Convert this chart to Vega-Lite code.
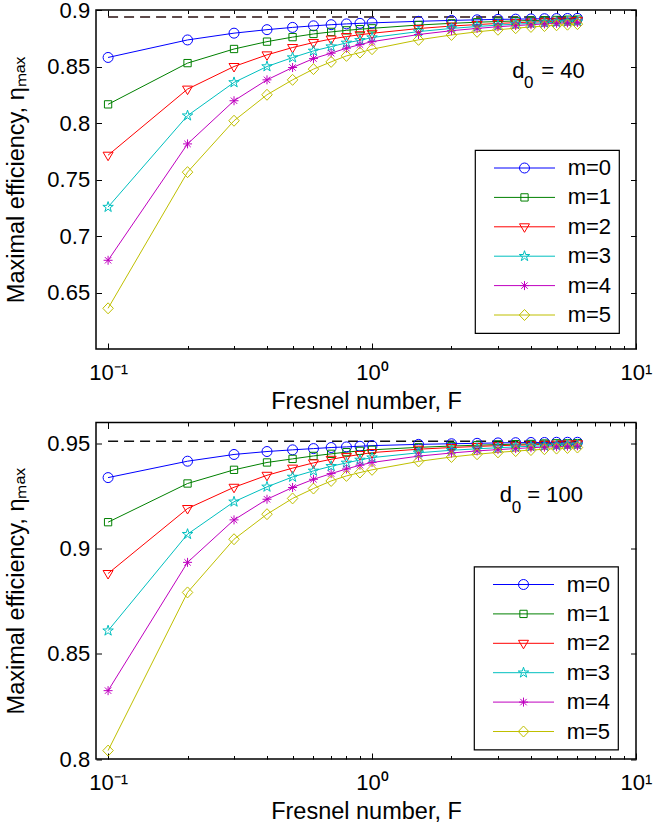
{
  "$schema": "https://vega.github.io/schema/vega-lite/v6.json",
  "background": "white",
  "padding": {"left": 4, "top": -2, "right": 0, "bottom": 0},
  "spacing": 6.5,
  "config": {
    "font": "Liberation Sans",
    "view": {"stroke": "black", "strokeWidth": 1.5},
    "axis": {"grid": false, "domain": false, "labelFont": "Liberation Sans", "labelFontSize": 22, "labelColor": "black", "titleFont": "Liberation Sans", "titleFontSize": 23.5, "titleFontWeight": "normal", "titleColor": "black", "tickColor": "black", "tickWidth": 1, "labelFlush": false, "labelOverlap": false},
    "legend": {"strokeWidth": 1.2}
  },
  "resolve": {"scale": {"x": "independent", "y": "independent", "color": "independent", "shape": "independent"}},
  "datasets": {
    "top": [
      {"F":0.1,"m":"m=0","eta":0.858},{"F":0.2,"m":"m=0","eta":0.8735},{"F":0.3,"m":"m=0","eta":0.8795},{"F":0.4,"m":"m=0","eta":0.8826},{"F":0.5,"m":"m=0","eta":0.8846},{"F":0.6,"m":"m=0","eta":0.886},{"F":0.7,"m":"m=0","eta":0.887},{"F":0.8,"m":"m=0","eta":0.8877},{"F":0.9,"m":"m=0","eta":0.8882},{"F":1,"m":"m=0","eta":0.8886},{"F":1.5,"m":"m=0","eta":0.89},{"F":2,"m":"m=0","eta":0.8908},{"F":2.5,"m":"m=0","eta":0.8913},{"F":3,"m":"m=0","eta":0.8917},{"F":3.5,"m":"m=0","eta":0.8919},{"F":4,"m":"m=0","eta":0.8921},{"F":4.5,"m":"m=0","eta":0.8923},{"F":5,"m":"m=0","eta":0.8924},{"F":5.5,"m":"m=0","eta":0.8925},{"F":6,"m":"m=0","eta":0.8926},
      {"F":0.1,"m":"m=1","eta":0.8165},{"F":0.2,"m":"m=1","eta":0.853},{"F":0.3,"m":"m=1","eta":0.8655},{"F":0.4,"m":"m=1","eta":0.872},{"F":0.5,"m":"m=1","eta":0.876},{"F":0.6,"m":"m=1","eta":0.8788},{"F":0.7,"m":"m=1","eta":0.8806},{"F":0.8,"m":"m=1","eta":0.882},{"F":0.9,"m":"m=1","eta":0.883},{"F":1,"m":"m=1","eta":0.8838},{"F":1.5,"m":"m=1","eta":0.8867},{"F":2,"m":"m=1","eta":0.8882},{"F":2.5,"m":"m=1","eta":0.8892},{"F":3,"m":"m=1","eta":0.8898},{"F":3.5,"m":"m=1","eta":0.8903},{"F":4,"m":"m=1","eta":0.8907},{"F":4.5,"m":"m=1","eta":0.8909},{"F":5,"m":"m=1","eta":0.8912},{"F":5.5,"m":"m=1","eta":0.8914},{"F":6,"m":"m=1","eta":0.8915},
      {"F":0.1,"m":"m=2","eta":0.7715},{"F":0.2,"m":"m=2","eta":0.83},{"F":0.3,"m":"m=2","eta":0.85},{"F":0.4,"m":"m=2","eta":0.8603},{"F":0.5,"m":"m=2","eta":0.8668},{"F":0.6,"m":"m=2","eta":0.8712},{"F":0.7,"m":"m=2","eta":0.8743},{"F":0.8,"m":"m=2","eta":0.8765},{"F":0.9,"m":"m=2","eta":0.8781},{"F":1,"m":"m=2","eta":0.8794},{"F":1.5,"m":"m=2","eta":0.8836},{"F":2,"m":"m=2","eta":0.8858},{"F":2.5,"m":"m=2","eta":0.8871},{"F":3,"m":"m=2","eta":0.8881},{"F":3.5,"m":"m=2","eta":0.8888},{"F":4,"m":"m=2","eta":0.8893},{"F":4.5,"m":"m=2","eta":0.8897},{"F":5,"m":"m=2","eta":0.8901},{"F":5.5,"m":"m=2","eta":0.8903},{"F":6,"m":"m=2","eta":0.8906},
      {"F":0.1,"m":"m=3","eta":0.7256},{"F":0.2,"m":"m=3","eta":0.8065},{"F":0.3,"m":"m=3","eta":0.8359},{"F":0.4,"m":"m=3","eta":0.85},{"F":0.5,"m":"m=3","eta":0.8579},{"F":0.6,"m":"m=3","eta":0.8638},{"F":0.7,"m":"m=3","eta":0.8676},{"F":0.8,"m":"m=3","eta":0.8709},{"F":0.9,"m":"m=3","eta":0.8732},{"F":1,"m":"m=3","eta":0.8756},{"F":1.5,"m":"m=3","eta":0.8809},{"F":2,"m":"m=3","eta":0.8837},{"F":2.5,"m":"m=3","eta":0.8854},{"F":3,"m":"m=3","eta":0.8866},{"F":3.5,"m":"m=3","eta":0.8875},{"F":4,"m":"m=3","eta":0.8881},{"F":4.5,"m":"m=3","eta":0.8887},{"F":5,"m":"m=3","eta":0.8891},{"F":5.5,"m":"m=3","eta":0.8895},{"F":6,"m":"m=3","eta":0.8898},
      {"F":0.1,"m":"m=4","eta":0.6785},{"F":0.2,"m":"m=4","eta":0.7815},{"F":0.3,"m":"m=4","eta":0.8197},{"F":0.4,"m":"m=4","eta":0.8382},{"F":0.5,"m":"m=4","eta":0.8491},{"F":0.6,"m":"m=4","eta":0.857},{"F":0.7,"m":"m=4","eta":0.8618},{"F":0.8,"m":"m=4","eta":0.8662},{"F":0.9,"m":"m=4","eta":0.8694},{"F":1,"m":"m=4","eta":0.872},{"F":1.5,"m":"m=4","eta":0.8783},{"F":2,"m":"m=4","eta":0.8817},{"F":2.5,"m":"m=4","eta":0.8837},{"F":3,"m":"m=4","eta":0.8852},{"F":3.5,"m":"m=4","eta":0.8862},{"F":4,"m":"m=4","eta":0.887},{"F":4.5,"m":"m=4","eta":0.8877},{"F":5,"m":"m=4","eta":0.8882},{"F":5.5,"m":"m=4","eta":0.8886},{"F":6,"m":"m=4","eta":0.889},
      {"F":0.1,"m":"m=5","eta":0.636},{"F":0.2,"m":"m=5","eta":0.7565},{"F":0.3,"m":"m=5","eta":0.802},{"F":0.4,"m":"m=5","eta":0.825},{"F":0.5,"m":"m=5","eta":0.8382},{"F":0.6,"m":"m=5","eta":0.8477},{"F":0.7,"m":"m=5","eta":0.8541},{"F":0.8,"m":"m=5","eta":0.8594},{"F":0.9,"m":"m=5","eta":0.8623},{"F":1,"m":"m=5","eta":0.8653},{"F":1.5,"m":"m=5","eta":0.8736},{"F":2,"m":"m=5","eta":0.8779},{"F":2.5,"m":"m=5","eta":0.8807},{"F":3,"m":"m=5","eta":0.8825},{"F":3.5,"m":"m=5","eta":0.8839},{"F":4,"m":"m=5","eta":0.885},{"F":4.5,"m":"m=5","eta":0.8858},{"F":5,"m":"m=5","eta":0.8865},{"F":5.5,"m":"m=5","eta":0.887},{"F":6,"m":"m=5","eta":0.8875}
    ],
    "bottom": [
      {"F":0.1,"m":"m=0","eta":0.9338},{"F":0.2,"m":"m=0","eta":0.9416},{"F":0.3,"m":"m=0","eta":0.9448},{"F":0.4,"m":"m=0","eta":0.9462},{"F":0.5,"m":"m=0","eta":0.947},{"F":0.6,"m":"m=0","eta":0.9476},{"F":0.7,"m":"m=0","eta":0.9481},{"F":0.8,"m":"m=0","eta":0.9484},{"F":0.9,"m":"m=0","eta":0.9487},{"F":1,"m":"m=0","eta":0.949},{"F":1.5,"m":"m=0","eta":0.9496},{"F":2,"m":"m=0","eta":0.9499},{"F":2.5,"m":"m=0","eta":0.9501},{"F":3,"m":"m=0","eta":0.9503},{"F":3.5,"m":"m=0","eta":0.9504},{"F":4,"m":"m=0","eta":0.9505},{"F":4.5,"m":"m=0","eta":0.9505},{"F":5,"m":"m=0","eta":0.9506},{"F":5.5,"m":"m=0","eta":0.9506},{"F":6,"m":"m=0","eta":0.9506},
      {"F":0.1,"m":"m=1","eta":0.9126},{"F":0.2,"m":"m=1","eta":0.931},{"F":0.3,"m":"m=1","eta":0.9375},{"F":0.4,"m":"m=1","eta":0.941},{"F":0.5,"m":"m=1","eta":0.9427},{"F":0.6,"m":"m=1","eta":0.9441},{"F":0.7,"m":"m=1","eta":0.9451},{"F":0.8,"m":"m=1","eta":0.9459},{"F":0.9,"m":"m=1","eta":0.9465},{"F":1,"m":"m=1","eta":0.947},{"F":1.5,"m":"m=1","eta":0.9482},{"F":2,"m":"m=1","eta":0.9488},{"F":2.5,"m":"m=1","eta":0.9492},{"F":3,"m":"m=1","eta":0.9495},{"F":3.5,"m":"m=1","eta":0.9497},{"F":4,"m":"m=1","eta":0.9498},{"F":4.5,"m":"m=1","eta":0.95},{"F":5,"m":"m=1","eta":0.9501},{"F":5.5,"m":"m=1","eta":0.9501},{"F":6,"m":"m=1","eta":0.9502},
      {"F":0.1,"m":"m=2","eta":0.8882},{"F":0.2,"m":"m=2","eta":0.9191},{"F":0.3,"m":"m=2","eta":0.9292},{"F":0.4,"m":"m=2","eta":0.9349},{"F":0.5,"m":"m=2","eta":0.9383},{"F":0.6,"m":"m=2","eta":0.9408},{"F":0.7,"m":"m=2","eta":0.9425},{"F":0.8,"m":"m=2","eta":0.9438},{"F":0.9,"m":"m=2","eta":0.9448},{"F":1,"m":"m=2","eta":0.9457},{"F":1.5,"m":"m=2","eta":0.9473},{"F":2,"m":"m=2","eta":0.9481},{"F":2.5,"m":"m=2","eta":0.9486},{"F":3,"m":"m=2","eta":0.949},{"F":3.5,"m":"m=2","eta":0.9492},{"F":4,"m":"m=2","eta":0.9494},{"F":4.5,"m":"m=2","eta":0.9496},{"F":5,"m":"m=2","eta":0.9497},{"F":5.5,"m":"m=2","eta":0.9498},{"F":6,"m":"m=2","eta":0.9499},
      {"F":0.1,"m":"m=3","eta":0.861},{"F":0.2,"m":"m=3","eta":0.9069},{"F":0.3,"m":"m=3","eta":0.9223},{"F":0.4,"m":"m=3","eta":0.9294},{"F":0.5,"m":"m=3","eta":0.9341},{"F":0.6,"m":"m=3","eta":0.937},{"F":0.7,"m":"m=3","eta":0.9392},{"F":0.8,"m":"m=3","eta":0.9408},{"F":0.9,"m":"m=3","eta":0.9422},{"F":1,"m":"m=3","eta":0.9433},{"F":1.5,"m":"m=3","eta":0.9456},{"F":2,"m":"m=3","eta":0.9468},{"F":2.5,"m":"m=3","eta":0.9475},{"F":3,"m":"m=3","eta":0.948},{"F":3.5,"m":"m=3","eta":0.9484},{"F":4,"m":"m=3","eta":0.9487},{"F":4.5,"m":"m=3","eta":0.9489},{"F":5,"m":"m=3","eta":0.9491},{"F":5.5,"m":"m=3","eta":0.9493},{"F":6,"m":"m=3","eta":0.9494},
      {"F":0.1,"m":"m=4","eta":0.8325},{"F":0.2,"m":"m=4","eta":0.8935},{"F":0.3,"m":"m=4","eta":0.9137},{"F":0.4,"m":"m=4","eta":0.9235},{"F":0.5,"m":"m=4","eta":0.9291},{"F":0.6,"m":"m=4","eta":0.933},{"F":0.7,"m":"m=4","eta":0.9357},{"F":0.8,"m":"m=4","eta":0.9379},{"F":0.9,"m":"m=4","eta":0.9397},{"F":1,"m":"m=4","eta":0.941},{"F":1.5,"m":"m=4","eta":0.944},{"F":2,"m":"m=4","eta":0.9455},{"F":2.5,"m":"m=4","eta":0.9465},{"F":3,"m":"m=4","eta":0.9471},{"F":3.5,"m":"m=4","eta":0.9476},{"F":4,"m":"m=4","eta":0.948},{"F":4.5,"m":"m=4","eta":0.9483},{"F":5,"m":"m=4","eta":0.9485},{"F":5.5,"m":"m=4","eta":0.9487},{"F":6,"m":"m=4","eta":0.9489},
      {"F":0.1,"m":"m=5","eta":0.804},{"F":0.2,"m":"m=5","eta":0.8792},{"F":0.3,"m":"m=5","eta":0.9045},{"F":0.4,"m":"m=5","eta":0.9164},{"F":0.5,"m":"m=5","eta":0.9239},{"F":0.6,"m":"m=5","eta":0.9286},{"F":0.7,"m":"m=5","eta":0.9322},{"F":0.8,"m":"m=5","eta":0.9346},{"F":0.9,"m":"m=5","eta":0.9362},{"F":1,"m":"m=5","eta":0.9375},{"F":1.5,"m":"m=5","eta":0.9415},{"F":2,"m":"m=5","eta":0.9436},{"F":2.5,"m":"m=5","eta":0.9449},{"F":3,"m":"m=5","eta":0.9458},{"F":3.5,"m":"m=5","eta":0.9464},{"F":4,"m":"m=5","eta":0.9469},{"F":4.5,"m":"m=5","eta":0.9473},{"F":5,"m":"m=5","eta":0.9476},{"F":5.5,"m":"m=5","eta":0.9479},{"F":6,"m":"m=5","eta":0.9481}
    ],
    "asymTop": [{"F":0.1,"eta":0.8937},{"F":6,"eta":0.8937}],
    "asymBottom": [{"F":0.1,"eta":0.9511},{"F":6,"eta":0.9511}]
  },
  "vconcat": [
    {
      "width": 540,
      "height": 339,
      "resolve": {"axis": {"x": "independent", "y": "independent"}, "scale": {"color": "independent", "shape": "independent"}},
      "layer": [
        {
          "data": {"name": "asymTop"},
          "mark": {"type": "line", "strokeDash": [10, 6], "color": "#2a1010", "strokeWidth": 1.5},
          "encoding": {
            "x": {"field": "F", "type": "quantitative", "axis": null},
            "y": {"field": "eta", "type": "quantitative", "axis": null}
          }
        },
        {
          "data": {"name": "top"},
          "mark": {"type": "line", "strokeWidth": 1},
          "encoding": {
            "x": {"field": "F", "type": "quantitative", "scale": {"type": "log", "domain": [0.09, 10], "nice": false},
              "axis": {"orient": "bottom", "values": [0.1,0.2,0.3,0.4,0.5,0.6,0.7,0.8,0.9,1,2,3,4,5,6,7,8,9,10],
                "labelExpr": "datum.value == 0.1 ? '10⁻¹' : datum.value == 1 ? '10⁰' : datum.value == 10 ? '10¹' : ''",
                "tickSize": {"condition": {"test": "datum.value == 0.1 || datum.value == 1 || datum.value == 10", "value": -6}, "value": -3.5},
                "labelPadding": 19, "title": "Fresnel number, F", "titlePadding": 4}},
            "y": {"field": "eta", "type": "quantitative", "scale": {"domain": [0.6, 0.9], "nice": false, "zero": false},
              "axis": {"orient": "left", "values": [0.65,0.7,0.75,0.8,0.85,0.9], "format": ".2~f", "tickSize": -5.5, "labelPadding": 11.8, "title": "Maximal efficiency, ηₘₐₓ", "titlePadding": 18}},
            "color": {"field": "m", "type": "nominal", "scale": {"domain": ["m=0","m=1","m=2","m=3","m=4","m=5"], "range": ["#0000ff","#008000","#ff0000","#00bfbf","#bf00bf","#bfbf00"]}, "legend": null}
          }
        },
        {
          "data": {"name": "top"},
          "mark": {"type": "point", "filled": false, "size": 100, "strokeWidth": 1, "opacity": 1},
          "encoding": {
            "x": {"field": "F", "type": "quantitative",
              "axis": {"orient": "top", "values": [0.1,0.2,0.3,0.4,0.5,0.6,0.7,0.8,0.9,1,2,3,4,5,6,7,8,9,10], "labels": false, "title": null,
                "tickSize": {"condition": {"test": "datum.value == 0.1 || datum.value == 1 || datum.value == 10", "value": -6}, "value": -3.5}}},
            "y": {"field": "eta", "type": "quantitative",
              "axis": {"orient": "right", "values": [0.65,0.7,0.75,0.8,0.85,0.9], "labels": false, "title": null, "tickSize": -5.5}},
            "color": {"field": "m", "type": "nominal", "scale": {"domain": ["m=0","m=1","m=2","m=3","m=4","m=5"], "range": ["#0000ff","#008000","#ff0000","#00bfbf","#bf00bf","#bfbf00"]}, "legend": null},
            "shape": {"field": "m", "type": "nominal", "scale": {"domain": ["m=0","m=1","m=2","m=3","m=4","m=5"], "range": ["M1,0A1,1,0,1,1,-1,0A1,1,0,1,1,1,0Z", "M-0.73,-0.73H0.73V0.73H-0.73Z", "M-1,-0.6H1L0,1.1Z", "M0,-1.1L0.247,-0.34L1.046,-0.34L0.4,0.13L0.647,0.89L0,0.42L-0.647,0.89L-0.4,0.13L-1.046,-0.34L-0.247,-0.34Z", "M-0.9,0H0.9M0,-0.9V0.9M-0.64,-0.64L0.64,0.64M-0.64,0.64L0.64,-0.64", "M0,-1.1L1.05,0L0,1.1L-1.05,0Z"]}, "legend": null}
          }
        },
        {
          "data": {"name": "top"},
          "transform": [{"filter": "datum.F < 0"}],
          "mark": {"type": "point", "filled": false, "size": 100, "strokeWidth": 1, "opacity": 1},
          "encoding": {
            "x": {"field": "F", "type": "quantitative", "axis": null},
            "y": {"field": "eta", "type": "quantitative", "axis": null},
            "color": {"field": "m", "type": "nominal", "scale": {"domain": ["m=0","m=1","m=2","m=3","m=4","m=5"], "range": ["#0000ff","#008000","#ff0000","#00bfbf","#bf00bf","#bfbf00"]},
              "legend": {"orient": "none", "legendX": 379, "legendY": 140, "title": null, "padding": 7, "rowPadding": 7.4, "strokeColor": "black", "fillColor": "white", "symbolSize": 100, "symbolStrokeWidth": 1, "labelOffset": 63.7, "labelFontSize": 22, "labelFont": "Liberation Sans", "labelColor": "black", "labelExpr": "datum.label + '  '"}},
            "shape": {"field": "m", "type": "nominal", "scale": {"domain": ["m=0","m=1","m=2","m=3","m=4","m=5"], "range": ["M0.2,0H12.4M7.3,0A1,1,0,1,1,5.3,0A1,1,0,1,1,7.3,0", "M0.2,0H12.4M5.57,-0.73H7.03V0.73H5.57Z", "M0.2,0H12.4M5.3,-0.6H7.3L6.3,1.1Z", "M0.2,0H12.4M6.3,-1.1L6.547,-0.34L7.346,-0.34L6.7,0.13L6.947,0.89L6.3,0.42L5.653,0.89L5.9,0.13L5.254,-0.34L6.053,-0.34Z", "M0.2,0H12.4M5.4,0H7.2M6.3,-0.9V0.9M5.66,-0.64L6.94,0.64M5.66,0.64L6.94,-0.64", "M0.2,0H12.4M6.3,-1.1L7.35,0L6.3,1.1L5.25,0Z"]},
              "legend": {"orient": "none", "legendX": 379, "legendY": 140, "title": null, "padding": 7, "rowPadding": 7.4, "strokeColor": "black", "fillColor": "white", "symbolSize": 100, "symbolStrokeWidth": 1, "labelOffset": 63.7, "labelFontSize": 22, "labelFont": "Liberation Sans", "labelColor": "black", "labelExpr": "datum.label + '  '"}}
          }
        },
        {
          "data": {"values": [{"F": 3.4, "eta": 0.8397, "d0": 40}]},
          "layer": [
            {"mark": {"type": "text", "text": "d", "align": "left", "baseline": "alphabetic", "fontSize": 22, "color": "black"},
             "encoding": {"x": {"field": "F", "type": "quantitative", "axis": null}, "y": {"field": "eta", "type": "quantitative", "axis": null}}},
            {"mark": {"type": "text", "text": "0", "align": "left", "baseline": "alphabetic", "fontSize": 17, "dx": 11.7, "dy": 10, "color": "black"},
             "encoding": {"x": {"field": "F", "type": "quantitative", "axis": null}, "y": {"field": "eta", "type": "quantitative", "axis": null}}},
            {"mark": {"type": "text", "align": "left", "baseline": "alphabetic", "fontSize": 22, "dx": 29, "color": "black"},
             "encoding": {"x": {"field": "F", "type": "quantitative", "axis": null}, "y": {"field": "eta", "type": "quantitative", "axis": null}, "text": {"value": "= 40"}}}
          ]
        }
      ]
    },
    {
      "width": 540,
      "height": 336.5,
      "resolve": {"axis": {"x": "independent", "y": "independent"}, "scale": {"color": "independent", "shape": "independent"}},
      "layer": [
        {
          "data": {"name": "asymBottom"},
          "mark": {"type": "line", "strokeDash": [10, 6], "color": "#111111", "strokeWidth": 1.5},
          "encoding": {
            "x": {"field": "F", "type": "quantitative", "axis": null},
            "y": {"field": "eta", "type": "quantitative", "axis": null}
          }
        },
        {
          "data": {"name": "bottom"},
          "mark": {"type": "line", "strokeWidth": 1},
          "encoding": {
            "x": {"field": "F", "type": "quantitative", "scale": {"type": "log", "domain": [0.09, 10], "nice": false},
              "axis": {"orient": "bottom", "values": [0.1,0.2,0.3,0.4,0.5,0.6,0.7,0.8,0.9,1,2,3,4,5,6,7,8,9,10],
                "labelExpr": "datum.value == 0.1 ? '10⁻¹' : datum.value == 1 ? '10⁰' : datum.value == 10 ? '10¹' : ''",
                "tickSize": {"condition": {"test": "datum.value == 0.1 || datum.value == 1 || datum.value == 10", "value": -6}, "value": -3.5},
                "labelPadding": 19, "title": "Fresnel number, F", "titlePadding": 4}},
            "y": {"field": "eta", "type": "quantitative", "scale": {"domain": [0.8, 0.96], "nice": false, "zero": false},
              "axis": {"orient": "left", "values": [0.8,0.85,0.9,0.95], "format": ".2~f", "tickSize": -5.5, "labelPadding": 11.8, "title": "Maximal efficiency, ηₘₐₓ", "titlePadding": 18}},
            "color": {"field": "m", "type": "nominal", "scale": {"domain": ["m=0","m=1","m=2","m=3","m=4","m=5"], "range": ["#0000ff","#008000","#ff0000","#00bfbf","#bf00bf","#bfbf00"]}, "legend": null}
          }
        },
        {
          "data": {"name": "bottom"},
          "mark": {"type": "point", "filled": false, "size": 100, "strokeWidth": 1, "opacity": 1},
          "encoding": {
            "x": {"field": "F", "type": "quantitative",
              "axis": {"orient": "top", "values": [0.1,0.2,0.3,0.4,0.5,0.6,0.7,0.8,0.9,1,2,3,4,5,6,7,8,9,10], "labels": false, "title": null,
                "tickSize": {"condition": {"test": "datum.value == 0.1 || datum.value == 1 || datum.value == 10", "value": -6}, "value": -3.5}}},
            "y": {"field": "eta", "type": "quantitative",
              "axis": {"orient": "right", "values": [0.8,0.85,0.9,0.95], "labels": false, "title": null, "tickSize": -5.5}},
            "color": {"field": "m", "type": "nominal", "scale": {"domain": ["m=0","m=1","m=2","m=3","m=4","m=5"], "range": ["#0000ff","#008000","#ff0000","#00bfbf","#bf00bf","#bfbf00"]}, "legend": null},
            "shape": {"field": "m", "type": "nominal", "scale": {"domain": ["m=0","m=1","m=2","m=3","m=4","m=5"], "range": ["M1,0A1,1,0,1,1,-1,0A1,1,0,1,1,1,0Z", "M-0.73,-0.73H0.73V0.73H-0.73Z", "M-1,-0.6H1L0,1.1Z", "M0,-1.1L0.247,-0.34L1.046,-0.34L0.4,0.13L0.647,0.89L0,0.42L-0.647,0.89L-0.4,0.13L-1.046,-0.34L-0.247,-0.34Z", "M-0.9,0H0.9M0,-0.9V0.9M-0.64,-0.64L0.64,0.64M-0.64,0.64L0.64,-0.64", "M0,-1.1L1.05,0L0,1.1L-1.05,0Z"]}, "legend": null}
          }
        },
        {
          "data": {"name": "bottom"},
          "transform": [{"filter": "datum.F < 0"}],
          "mark": {"type": "point", "filled": false, "size": 100, "strokeWidth": 1, "opacity": 1},
          "encoding": {
            "x": {"field": "F", "type": "quantitative", "axis": null},
            "y": {"field": "eta", "type": "quantitative", "axis": null},
            "color": {"field": "m", "type": "nominal", "scale": {"domain": ["m=0","m=1","m=2","m=3","m=4","m=5"], "range": ["#0000ff","#008000","#ff0000","#00bfbf","#bf00bf","#bfbf00"]},
              "legend": {"orient": "none", "legendX": 378, "legendY": 144, "title": null, "padding": 7, "rowPadding": 7.4, "strokeColor": "black", "fillColor": "white", "symbolSize": 100, "symbolStrokeWidth": 1, "labelOffset": 63.7, "labelFontSize": 22, "labelFont": "Liberation Sans", "labelColor": "black", "labelExpr": "datum.label + '  '"}},
            "shape": {"field": "m", "type": "nominal", "scale": {"domain": ["m=0","m=1","m=2","m=3","m=4","m=5"], "range": ["M0.2,0H12.4M7.3,0A1,1,0,1,1,5.3,0A1,1,0,1,1,7.3,0", "M0.2,0H12.4M5.57,-0.73H7.03V0.73H5.57Z", "M0.2,0H12.4M5.3,-0.6H7.3L6.3,1.1Z", "M0.2,0H12.4M6.3,-1.1L6.547,-0.34L7.346,-0.34L6.7,0.13L6.947,0.89L6.3,0.42L5.653,0.89L5.9,0.13L5.254,-0.34L6.053,-0.34Z", "M0.2,0H12.4M5.4,0H7.2M6.3,-0.9V0.9M5.66,-0.64L6.94,0.64M5.66,0.64L6.94,-0.64", "M0.2,0H12.4M6.3,-1.1L7.35,0L6.3,1.1L5.25,0Z"]},
              "legend": {"orient": "none", "legendX": 378, "legendY": 144, "title": null, "padding": 7, "rowPadding": 7.4, "strokeColor": "black", "fillColor": "white", "symbolSize": 100, "symbolStrokeWidth": 1, "labelOffset": 63.7, "labelFontSize": 22, "labelFont": "Liberation Sans", "labelColor": "black", "labelExpr": "datum.label + '  '"}}
          }
        },
        {
          "data": {"values": [{"F": 3.045, "eta": 0.9222, "d0": 100}]},
          "layer": [
            {"mark": {"type": "text", "text": "d", "align": "left", "baseline": "alphabetic", "fontSize": 22, "color": "black"},
             "encoding": {"x": {"field": "F", "type": "quantitative", "axis": null}, "y": {"field": "eta", "type": "quantitative", "axis": null}}},
            {"mark": {"type": "text", "text": "0", "align": "left", "baseline": "alphabetic", "fontSize": 17, "dx": 12, "dy": 11, "color": "black"},
             "encoding": {"x": {"field": "F", "type": "quantitative", "axis": null}, "y": {"field": "eta", "type": "quantitative", "axis": null}}},
            {"mark": {"type": "text", "align": "left", "baseline": "alphabetic", "fontSize": 22, "dx": 27.6, "color": "black"},
             "encoding": {"x": {"field": "F", "type": "quantitative", "axis": null}, "y": {"field": "eta", "type": "quantitative", "axis": null}, "text": {"value": "= 100"}}}
          ]
        }
      ]
    }
  ]
}
